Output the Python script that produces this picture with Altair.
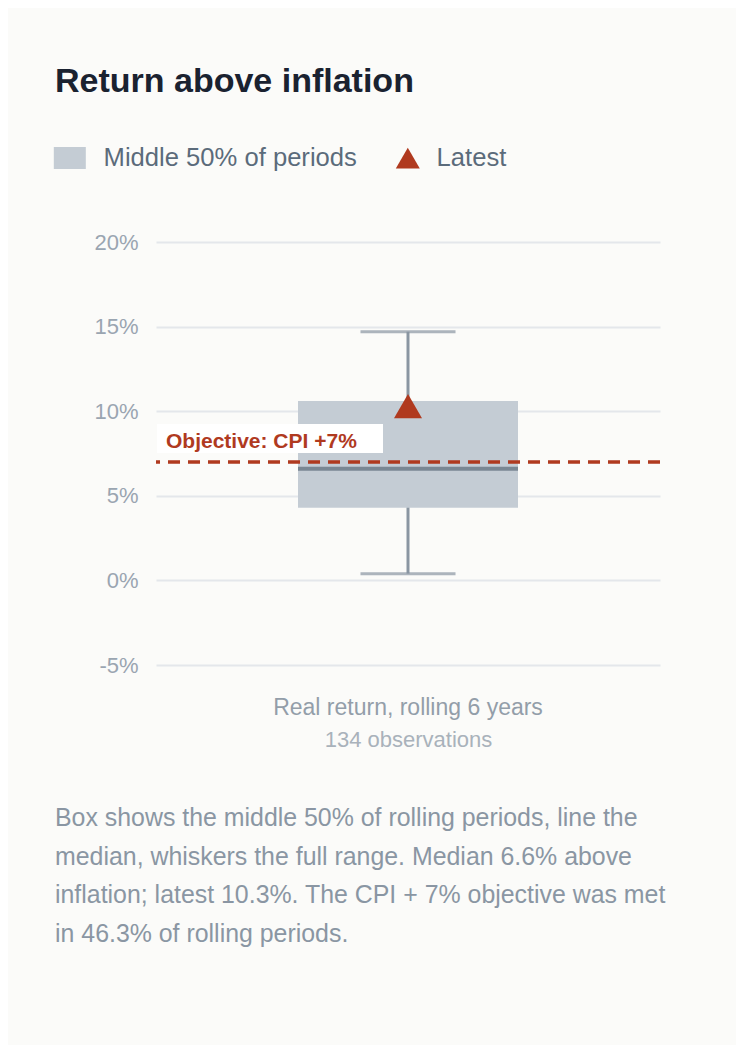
import altair as alt
import pandas as pd

# ---- data ----
category = ["Real return, rolling 6 years"]
range_min = [0.4]
q1 = [4.3]
median = [6.6]
q3 = [10.6]
range_max = [14.7]
latest = [10.3]
objective = [7.0]
objective_label = ["Objective: CPI +7%"]
observations = 134
series_names = ["Middle 50% of periods", "Latest"]
y_ticks = [-5, 0, 5, 10, 15, 20]
footer_lines = [
    "Box shows the middle 50% of rolling periods, line the",
    "median, whiskers the full range. Median 6.6% above",
    "inflation; latest 10.3%. The CPI + 7% objective was met",
    "in 46.3% of rolling periods.",
]

FONT = "Liberation Sans"
RED = "#b03a1f"
BOX = "#c4ccd4"
WHISKER = "#8a96a2"
MEDIAN = "#5b6977"

box_df = pd.DataFrame({
    "cat": category, "min": range_min, "q1": q1, "median": median,
    "q3": q3, "max": range_max, "series": [series_names[0]],
})
latest_df = pd.DataFrame({"cat": category, "value": latest, "series": [series_names[1]]})
obj_df = pd.DataFrame({"value": objective, "label": objective_label})
foot_df = pd.DataFrame({"k": [0]})

rect_path = "M-1.75,-0.917H0.917V0.917H-1.75Z"
color_scale = alt.Scale(domain=series_names, range=[BOX, RED])
shape_scale = alt.Scale(domain=series_names, range=[rect_path, "triangle-up"])
y_scale = alt.Scale(domain=[-5, 20], nice=False, zero=False)

legend = alt.Legend(
    orient="none", legendX=-94, legendY=-97, direction="horizontal", title=None,
    symbolSize=576, symbolStrokeWidth=0, labelFontSize=25.6, labelColor="#5b6b7b",
    labelFont=FONT, labelOffset=16, columnPadding=38, padding=0, labelLimit=0,
)

x_enc = alt.X(
    "cat:N",
    title=f"{observations} observations",
    axis=alt.Axis(
        domain=False, ticks=False, tickSize=0, labelPadding=31, labelFontSize=23,
        labelColor="#939ea9", labelAngle=0, labelLimit=0, titleFontSize=22,
        titleColor="#a9b2bb", titleFontWeight="normal", titlePadding=10,
        labelFont=FONT, titleFont=FONT,
    ),
)

whisker = alt.Chart(box_df).mark_rule(color=WHISKER, strokeWidth=3).encode(
    x=x_enc,
    y=alt.Y(
        "min:Q", scale=y_scale, title=None,
        axis=alt.Axis(
            values=y_ticks, labelExpr="datum.value + '%'", domain=False, ticks=False,
            tickSize=0, labelPadding=18, labelFontSize=22, labelColor="#9aa5b1",
            grid=True, gridColor="#e4e7eb", gridWidth=2, labelFont=FONT,
        ),
    ),
    y2="max:Q",
)

caps_lo = alt.Chart(box_df).mark_tick(color=WHISKER, size=95, thickness=3).encode(
    x="cat:N", y=alt.Y("min:Q", scale=y_scale, title=None)
)
caps_hi = alt.Chart(box_df).mark_tick(color=WHISKER, size=95, thickness=3).encode(
    x="cat:N", y=alt.Y("max:Q", scale=y_scale, title=None)
)

box = alt.Chart(box_df).mark_bar(size=220, opacity=1).encode(
    x="cat:N",
    y=alt.Y("q1:Q", scale=y_scale, title=None),
    y2="q3:Q",
    color=alt.Color("series:N", scale=color_scale, legend=legend),
)

med = alt.Chart(box_df).mark_tick(color=MEDIAN, size=220, thickness=4).encode(
    x="cat:N", y=alt.Y("median:Q", scale=y_scale, title=None)
)

obj_line = alt.Chart(obj_df).mark_rule(color=RED, strokeWidth=3.5, strokeDash=[12, 8]).encode(
    y=alt.Y("value:Q", scale=y_scale, title=None)
)

obj_box = alt.Chart(obj_df).mark_rect(
    color="white", x=1, x2=227, yOffset=-9, y2Offset=-38
).encode(
    y=alt.Y("value:Q", scale=y_scale, title=None), y2="value:Q"
)

obj_text = alt.Chart(obj_df).mark_text(
    align="left", baseline="alphabetic", x=10, dy=-14, fontSize=21,
    fontWeight="bold", color=RED, font=FONT,
).encode(
    y=alt.Y("value:Q", scale=y_scale, title=None), text="label:N"
)

latest_pt = alt.Chart(latest_df).mark_point(
    filled=True, size=784, opacity=1, strokeWidth=0
).encode(
    x="cat:N",
    y=alt.Y("value:Q", scale=y_scale, title=None),
    color=alt.Color("series:N", scale=color_scale, legend=legend),
    shape=alt.Shape("series:N", scale=shape_scale, legend=legend),
)

footer = alt.Chart(foot_df).mark_text(
    align="left", baseline="alphabetic", x=-101, y=584, fontSize=24.9,
    lineHeight=38.5, color="#8a96a3", font=FONT, text=footer_lines,
)

chart = alt.layer(
    whisker, caps_lo, caps_hi, box, med, obj_line, obj_box, obj_text, latest_pt, footer
).properties(
    width=504,
    height=423,
    autosize="none",
    padding={"left": 148, "top": 234, "right": 76, "bottom": 380},
    title=alt.TitleParams(
        "Return above inflation", anchor="start", frame="group", dx=-101,
        offset=19, fontSize=34, fontWeight="bold", color="#1a2230",
        font=FONT, baseline="alphabetic",
    ),
).configure(
    background="#fbfbf9",
    font=FONT,
).configure_view(stroke=None)

chart.save("out.html", embed_options={"renderer": "svg", "actions": False})
